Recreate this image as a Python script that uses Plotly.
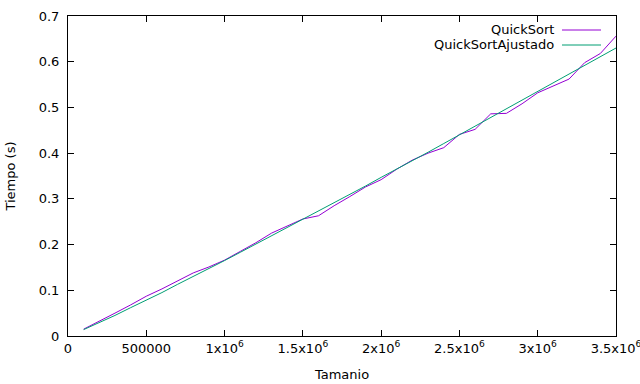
import plotly.graph_objects as go

tamanio = [100000 * i for i in range(1, 36)]
quicksort = [0.015, 0.032, 0.050, 0.068, 0.087, 0.103, 0.120, 0.138, 0.151, 0.166,
             0.185, 0.204, 0.225, 0.240, 0.256, 0.263, 0.285, 0.305, 0.326, 0.342,
             0.365, 0.385, 0.400, 0.412, 0.441, 0.452, 0.486, 0.487, 0.508, 0.532,
             0.547, 0.562, 0.598, 0.618, 0.656]
quicksort_ajustado = [0.014, 0.029, 0.045, 0.062, 0.078, 0.095, 0.113, 0.130, 0.147, 0.165,
                      0.183, 0.201, 0.219, 0.237, 0.255, 0.273, 0.291, 0.310, 0.328, 0.347,
                      0.365, 0.384, 0.402, 0.421, 0.440, 0.459, 0.478, 0.496, 0.515, 0.534,
                      0.553, 0.572, 0.592, 0.611, 0.630]

x_ticks = [0, 500000, 1000000, 1500000, 2000000, 2500000, 3000000, 3500000]
x_tick_labels = ["0", "500000", "1x10<sup>6</sup>", "1.5x10<sup>6</sup>", "2x10<sup>6</sup>",
                 "2.5x10<sup>6</sup>", "3x10<sup>6</sup>", "3.5x10<sup>6</sup>"]
y_ticks = [0, 0.1, 0.2, 0.3, 0.4, 0.5, 0.6, 0.7]
y_tick_labels = ["0", "0.1", "0.2", "0.3", "0.4", "0.5", "0.6", "0.7"]

names = ["QuickSort", "QuickSortAjustado"]
colors = ["#9400d3", "#009e73"]

fig = go.Figure()
for name, ys, c in zip(names, [quicksort, quicksort_ajustado], colors):
    fig.add_trace(go.Scatter(x=tamanio, y=ys, mode="lines", name=name,
                             line=dict(color=c, width=1), showlegend=False,
                             hoverinfo="skip"))

W, H = 640, 384
L, R, T, B = 68, 24, 16, 48
pw, ph = W - L - R, H - T - B

def px(xp):
    return (xp - L) / pw

def py(yp):
    return (H - B - yp) / ph

font = dict(family="DejaVu Sans", size=13, color="black")

annotations = []
shapes = []
for i, (name, c) in enumerate(zip(names, colors)):
    yy = 30 + 15 * i
    annotations.append(dict(x=px(556), y=py(yy), xref="paper", yref="paper",
                            text=name, showarrow=False, xanchor="right",
                            yanchor="middle", font=font))
    shapes.append(dict(type="line", xref="paper", yref="paper",
                       x0=px(562), x1=px(601), y0=py(yy), y1=py(yy),
                       line=dict(color=c, width=1)))

axis_common = dict(showline=True, linecolor="black", linewidth=1, mirror="ticks",
                   ticks="inside", ticklen=6, tickcolor="black", tickwidth=1,
                   showgrid=False, zeroline=False, tickfont=font,
                   ticklabeloverflow="allow", automargin=False)

fig.update_layout(
    width=W, height=H,
    margin=dict(l=L, r=R, t=T, b=B),
    paper_bgcolor="white", plot_bgcolor="white",
    font=font,
    xaxis=dict(range=[0, 3500000], tickvals=x_ticks, ticktext=x_tick_labels,
               title=dict(text="Tamanio", font=font, standoff=15), **axis_common),
    yaxis=dict(range=[0, 0.7], tickvals=y_ticks, ticktext=y_tick_labels,
               ticklabelstandoff=5,
               title=dict(text="Tiempo (s)", font=font, standoff=20), **axis_common),
    annotations=annotations,
    shapes=shapes,
)

fig.write_html("out.html")
